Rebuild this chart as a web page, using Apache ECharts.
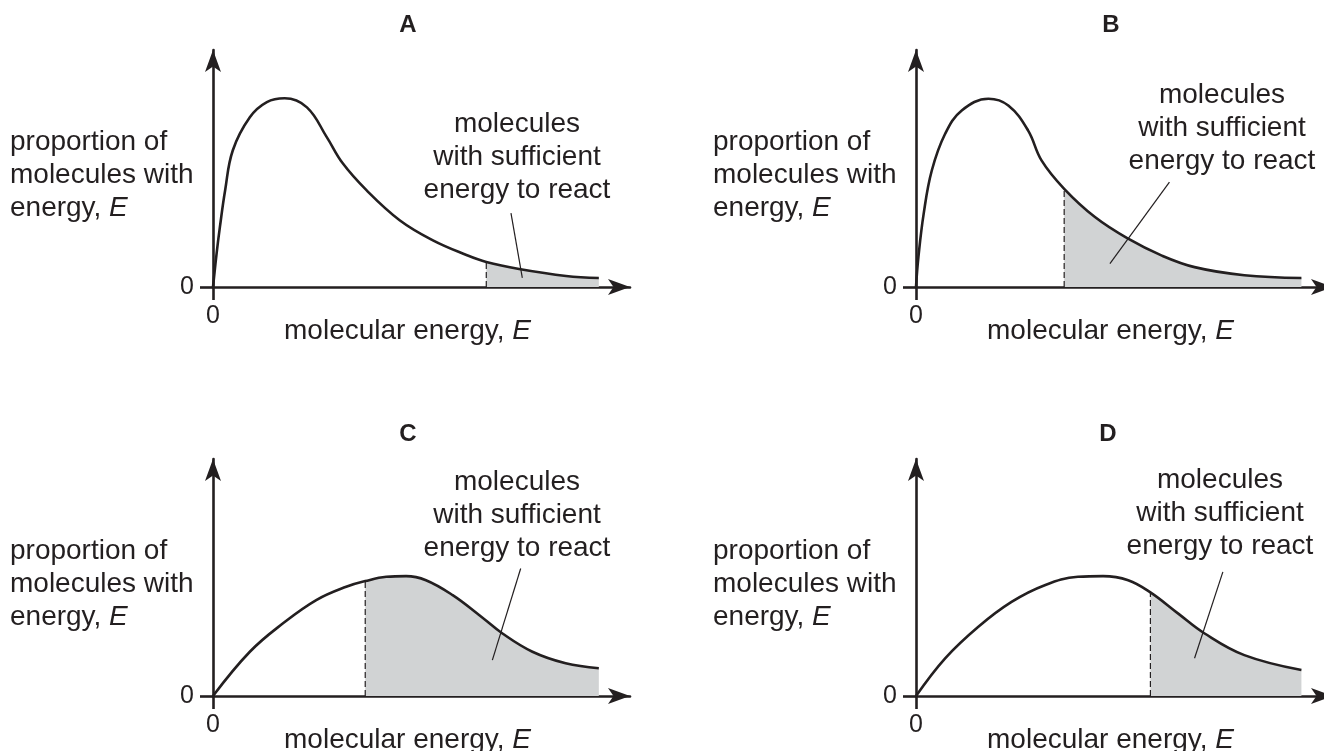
<!DOCTYPE html>
<html>
<head>
<meta charset="utf-8">
<title>molecular energy distributions</title>
<script src="https://cdn.jsdelivr.net/npm/echarts@6/dist/echarts.min.js"></script>
<style>
    html, body { margin: 0; padding: 0; background: #fff; }
    #chart { width: 1324px; height: 751px; }
</style>
</head>
<body>
<div id="chart"></div>
<script>
    // values (arbitrary units, origin at 0)
    const panelNames = ['A', 'B', 'C', 'D'];

    const energyA = [0, 0.9, 1.7, 3.0, 4.9, 9.1, 13.3, 17.7, 23.2, 28.1, 32.0, 37.9, 46.1, 54.2, 62.6, 67.5, 75.6, 87.2, 95.3];
    const proportionA = [0, 15.0, 26.5, 42.9, 60.6, 75.2, 81.9, 83.6, 79.6, 66.4, 54.9, 42.9, 29.6, 20.8, 14.2, 11.1, 8.0, 4.9, 4.0];

    const energyB = [0, 0.6, 1.9, 3.9, 7.2, 11.3, 17.9, 22.8, 27.7, 31.0, 36.6, 44.2, 52.4, 60.6, 68.8, 81.1, 95.2];
    const proportionB = [0, 13.3, 32.5, 51.6, 67.9, 78.2, 83.4, 80.4, 69.3, 56.1, 43.5, 31.0, 21.4, 14.0, 8.8, 5.2, 4.0];

    const energyC = [0, 9.1, 17.3, 25.5, 32.9, 37.6, 42.8, 47.7, 52.6, 59.2, 65.8, 71.5, 78.9, 87.1, 95.3];
    const proportionC = [0, 19.6, 32.2, 42.5, 48.4, 50.9, 52.8, 53.1, 51.3, 44.7, 35.8, 27.7, 19.6, 14.5, 12.3];

    const energyD = [0, 7.2, 15.4, 23.6, 31.8, 40.0, 46.2, 52.4, 57.9, 64.7, 71.3, 81.1, 95.2];
    const proportionD = [0, 16.7, 30.7, 41.7, 49.1, 52.8, 53.1, 51.3, 45.9, 36.6, 27.7, 18.1, 11.5];

    // activation energy (start of the shaded part)
    const thresholds = [67.5, 36.6, 37.6, 57.9];

    // pointer line of the "molecules with sufficient energy" note
    const leaderA = [[73.6, 32.7], [76.4, 4.0]];
    const leaderB = [[62.6, 46.5], [47.9, 10.4]];
    const leaderC = [[76.0, 56.5], [69.0, 15.9]];
    const leaderD = [[75.8, 55.0], [68.8, 16.7]];

    const axisTickLabels = ['0'];
    const xAxisTitle = 'molecular energy, {i|E}';
    const yAxisTitle = 'proportion of\nmolecules with\nenergy, {i|E}';
    const noteText = 'molecules\nwith sufficient\nenergy to react';

    const energies = [energyA, energyB, energyC, energyD];
    const proportions = [proportionA, proportionB, proportionC, proportionD];
    const leaders = [leaderA, leaderB, leaderC, leaderD];

    const ink = '#231f20';
    const shade = '#d1d3d4';
    const font = "'Liberation Sans', Arial, sans-serif";

    const grids = [
        {left: 213, top: 50, width: 417, height: 237},
        {left: 916, top: 50, width: 417, height: 237},
        {left: 213, top: 459, width: 417, height: 237},
        {left: 916, top: 459, width: 417, height: 237}
    ].map(g => Object.assign(g, {outerBoundsMode: 'none', containLabel: false}));

    const italic = {
        i: {fontStyle: 'italic', fontSize: 28, color: ink, fontFamily: font, lineHeight: 33}
    };

    let xAxes = [], yAxes = [], series = [];

    grids.forEach((g, i) => {
        xAxes.push({
            type: 'value', gridIndex: i, min: 0, max: 103,
            axisLine: {
                show: true, onZero: false,
                symbol: ['none', 'arrow'], symbolSize: [12, 22],
                lineStyle: {color: ink, width: 2.6}
            },
            axisTick: {show: true, customValues: [0], length: 13, lineStyle: {color: ink, width: 2.6}},
            axisLabel: {
                customValues: [0], margin: 17, fontSize: 25, color: ink, fontFamily: font,
                formatter: () => axisTickLabels[0]
            },
            splitLine: {show: false},
            name: xAxisTitle,
            nameLocation: 'middle',
            nameMoveOverlap: false,
            nameGap: 28,
            nameTextStyle: {fontSize: 28, color: ink, fontFamily: font, padding: [0, 28, 0, 0], rich: italic}
        });
        yAxes.push({
            type: 'value', gridIndex: i, min: 0, max: 105,
            axisLine: {
                show: true, onZero: false,
                symbol: ['none', 'arrow'], symbolSize: [12, 22],
                lineStyle: {color: ink, width: 2.6}
            },
            axisTick: {show: true, customValues: [0], length: 13, lineStyle: {color: ink, width: 2.6}},
            axisLabel: {
                customValues: [0], margin: 19, fontSize: 25, color: ink, fontFamily: font,
                formatter: () => axisTickLabels[0]
            },
            splitLine: {show: false},
            name: yAxisTitle,
            nameLocation: 'middle',
            nameMoveOverlap: false,
            nameRotate: 0,
            nameGap: 203,
            nameTextStyle: {
                fontSize: 28, color: ink, fontFamily: font, lineHeight: 33,
                align: 'left', verticalAlign: 'middle', padding: [14, 0, 0, 0], rich: italic
            }
        });

        let pts = energies[i].map((e, k) => [e, proportions[i][k]]);
        let cut = thresholds[i];
        let cutIdx = energies[i].indexOf(cut);
        let tail = pts.filter(p => p[0] >= cut);

        // shaded region under the curve beyond the threshold
        series.push({
            type: 'line', xAxisIndex: i, yAxisIndex: i,
            data: tail, smooth: 0.4,
            symbol: 'none', silent: true,
            lineStyle: {width: 0},
            areaStyle: {color: shade, opacity: 1},
            z: 1
        });
        // dashed threshold line
        series.push({
            type: 'line', xAxisIndex: i, yAxisIndex: i,
            data: [[cut, 0], [cut, proportions[i][cutIdx]]],
            symbol: 'none', silent: true,
            lineStyle: {color: ink, width: 1.2, type: [6, 3]},
            z: 2
        });
        // distribution curve
        series.push({
            type: 'line', xAxisIndex: i, yAxisIndex: i,
            data: pts, smooth: 0.4,
            symbol: 'none', silent: true,
            lineStyle: {color: ink, width: 2.6},
            z: 3
        });
        // leader line
        series.push({
            type: 'line', xAxisIndex: i, yAxisIndex: i,
            data: leaders[i],
            symbol: 'none', silent: true,
            lineStyle: {color: ink, width: 1.2},
            z: 4
        });
    });

    // panel letters and notes
    const titlePos = [[408, 25], [1111, 25], [408, 434], [1108, 434]];
    const notePos = [[517, 157], [1222, 128], [517, 515], [1220, 513]];
    let graphics = [];
    panelNames.forEach((name, i) => {
        graphics.push({
            type: 'text', x: titlePos[i][0], y: titlePos[i][1],
            style: {
                text: name, fill: ink, font: 'bold 24px ' + font,
                textAlign: 'center', textVerticalAlign: 'middle'
            }
        });
        graphics.push({
            type: 'text', x: notePos[i][0], y: notePos[i][1],
            style: {
                text: noteText, fill: ink, font: '28px ' + font, lineHeight: 33,
                textAlign: 'center', textVerticalAlign: 'middle'
            }
        });
    });

    const myChart = echarts.init(document.getElementById('chart'));
    myChart.setOption({
        backgroundColor: '#fff',
        animation: false,
        grid: grids,
        xAxis: xAxes,
        yAxis: yAxes,
        series: series,
        graphic: graphics
    });
</script>
</body>
</html>
